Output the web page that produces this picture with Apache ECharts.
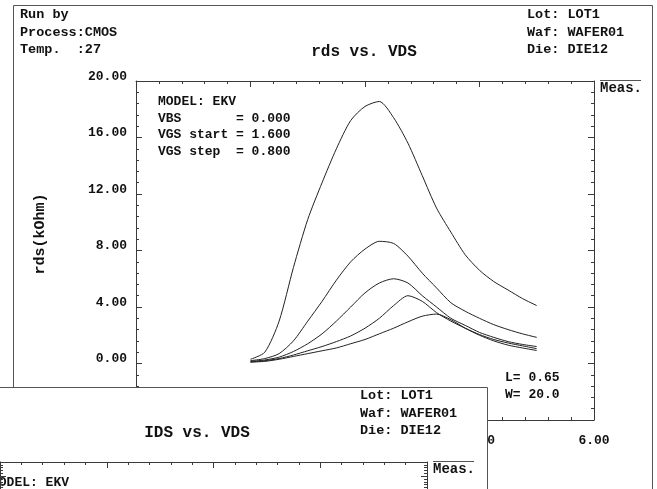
<!DOCTYPE html>
<html>
<head>
<meta charset="utf-8">
<script src="https://cdn.jsdelivr.net/npm/echarts@6/dist/echarts.min.js"></script>
<style>html,body{margin:0;padding:0;background:#fff;}#c{width:657px;height:489px;}</style>
</head>
<body>
<div id="c"></div>
<script>
// ---- data ----
var vds = [0, 0.25, 0.5, 0.75, 1.0, 1.25, 1.5, 1.75, 2.0, 2.25, 2.5, 2.75, 3.0, 3.25, 3.5, 3.75, 4.0, 4.25, 4.5, 4.75, 5.0];
var rdsVgs1 = [0.3, 0.8, 3.0, 6.8, 10.2, 12.8, 15.2, 17.2, 18.2, 18.55, 17.4, 15.6, 13.3, 11.0, 9.3, 7.7, 6.6, 5.8, 5.2, 4.6, 4.1];
var rdsVgs2 = [0.2, 0.35, 0.7, 1.6, 3.0, 4.4, 5.9, 7.2, 8.1, 8.65, 8.5, 7.6, 6.4, 5.35, 4.3, 3.7, 3.2, 2.75, 2.4, 2.1, 1.85];
var rdsVgs3 = [0.15, 0.25, 0.45, 0.85, 1.4, 2.1, 3.0, 4.0, 5.0, 5.7, 6.0, 5.7, 4.8, 4.0, 3.2, 2.7, 2.2, 1.85, 1.55, 1.35, 1.2];
var rdsVgs4 = [0.1, 0.2, 0.35, 0.6, 0.9, 1.2, 1.55, 1.95, 2.5, 3.2, 4.1, 4.8, 4.4, 3.6, 3.0, 2.5, 2.05, 1.7, 1.45, 1.25, 1.05];
var rdsVgs5 = [0.1, 0.15, 0.3, 0.5, 0.7, 0.9, 1.1, 1.4, 1.7, 2.1, 2.5, 2.95, 3.35, 3.5, 3.1, 2.5, 2.0, 1.6, 1.3, 1.1, 0.92];
var xRange = [-2, 6, 2];
var yRange = [-4, 20, 4];
var headerLeft = ['Run by', 'Process:CMOS', 'Temp.  :27'];
var headerRight = ['Lot: LOT1', 'Waf: WAFER01', 'Die: DIE12'];
var modelInfo = ['MODEL: EKV', 'VBS       = 0.000', 'VGS start = 1.600', 'VGS step  = 0.800'];
var geomInfo = ['L= 0.65', 'W= 20.0'];
var title1 = 'rds vs. VDS';
var title2 = 'IDS vs. VDS';
var yName = 'rds(kOhm)';
var measLabel = 'Meas.';

// ---- chart ----
var FONT = 'Liberation Mono';
var FRAME = '#3a3a3a';
var chart = echarts.init(document.getElementById('c'), null, {renderer: 'canvas'});

function pairs(ys) { return vds.map(function (x, i) { return [x, ys[i]]; }); }
var allRds = [rdsVgs1, rdsVgs2, rdsVgs3, rdsVgs4, rdsVgs5];

function xAx(grid, pos, labels, z) {
  return {
    type: 'value', gridIndex: grid, position: pos, min: xRange[0], max: xRange[1], interval: xRange[2], z: z,
    axisLine: {show: true, onZero: false, lineStyle: {color: FRAME, width: 1}},
    axisTick: {show: true, inside: true, length: 6, lineStyle: {color: FRAME}},
    minorTick: {show: true, splitNumber: 5, length: 3, lineStyle: {color: FRAME}},
    splitLine: {show: false},
    axisLabel: {show: labels, margin: 14, color: '#111', fontFamily: FONT, fontWeight: 'bold', fontSize: 13,
      formatter: function (v) { return v.toFixed(2); }}
  };
}
function yAx(grid, pos, labels, z) {
  return {
    type: 'value', gridIndex: grid, position: pos, min: yRange[0], max: yRange[1], interval: yRange[2], z: z,
    axisLine: {show: true, onZero: false, lineStyle: {color: FRAME, width: 1}},
    axisTick: {show: true, inside: true, length: 6, lineStyle: {color: FRAME}},
    minorTick: {show: true, splitNumber: 5, length: 3, lineStyle: {color: FRAME}},
    splitLine: {show: false},
    axisLabel: {show: labels, margin: 9, color: '#111', fontFamily: FONT, fontWeight: 'bold', fontSize: 13,
      verticalAlign: 'bottom', lineHeight: 9,
      formatter: function (v) { return v.toFixed(2); }}
  };
}

function txt(x, y, s, opts) {
  opts = opts || {};
  return {
    type: 'text', x: x, y: y, z: opts.z || 10, rotation: opts.rotation || 0,
    style: {text: s, fill: '#111', font: 'bold ' + (opts.size || 13.5) + 'px "' + FONT + '"',
      textAlign: opts.align || 'left', textVerticalAlign: 'middle'}
  };
}

var dx2 = -167, dy2 = 381;
var graphics = [];
// window 1 border
graphics.push({type: 'rect', z: 0, shape: {x: 13.5, y: 5.5, width: 639, height: 700}, style: {fill: 'none', stroke: '#555', lineWidth: 1}});
function windowTexts(ox, oy, title, z) {
  var out = [];
  headerRight.forEach(function (s, i) { out.push(txt(527 + ox, 15 + i * 17.5 + oy, s, {z: z})); });
  out.push(txt(364 + ox, 52 + oy, title, {z: z, size: 16, align: 'center'}));
  out.push(txt(600 + ox, 88 + oy, measLabel, {z: z, size: 14}));
  out.push({type: 'line', z: z, shape: {x1: 600 + ox, y1: 80.5 + oy, x2: 641 + ox, y2: 80.5 + oy}, style: {stroke: '#555', lineWidth: 1}});
  modelInfo.forEach(function (s, i) { out.push(txt(158 + ox, 102 + i * 16.5 + oy, s, {z: z, size: 13})); });
  return out;
}
headerLeft.forEach(function (s, i) { graphics.push(txt(20, 15 + i * 17.5, s)); });
graphics = graphics.concat(windowTexts(0, 0, title1, 10));
geomInfo.forEach(function (s, i) { graphics.push(txt(505, 378 + i * 17, s, {size: 13})); });
graphics.push(txt(40, 234, yName, {rotation: Math.PI / 2, align: 'center', size: 15}));
// window 2 (overlapping)
graphics.push({type: 'rect', z: 100, shape: {x: -20, y: 387.5, width: 507.5, height: 300}, style: {fill: '#fff', stroke: '#555', lineWidth: 1}});
graphics = graphics.concat(windowTexts(dx2, dy2, title2, 110));

var series = allRds.map(function (ys) {
  return {type: 'line', xAxisIndex: 0, yAxisIndex: 0, data: pairs(ys), showSymbol: false, smooth: 0.25,
    lineStyle: {color: '#222', width: 1}, z: 2, animation: false};
});

chart.setOption({
  backgroundColor: '#fff',
  animation: false,
  grid: [
    {left: 136, top: 81, right: 63, bottom: 69},
    {left: 136 + dx2, top: 81 + dy2, right: 63 - dx2, bottom: 69 - dy2}
  ],
  xAxis: [xAx(0, 'bottom', true, 0), xAx(0, 'top', false, 0), xAx(1, 'top', false, 110), xAx(1, 'bottom', false, 110)],
  yAxis: [yAx(0, 'left', true, 0), yAx(0, 'right', false, 0), yAx(1, 'left', false, 110), yAx(1, 'right', false, 110)],
  graphic: {elements: graphics},
  series: series
});
</script>
</body>
</html>
